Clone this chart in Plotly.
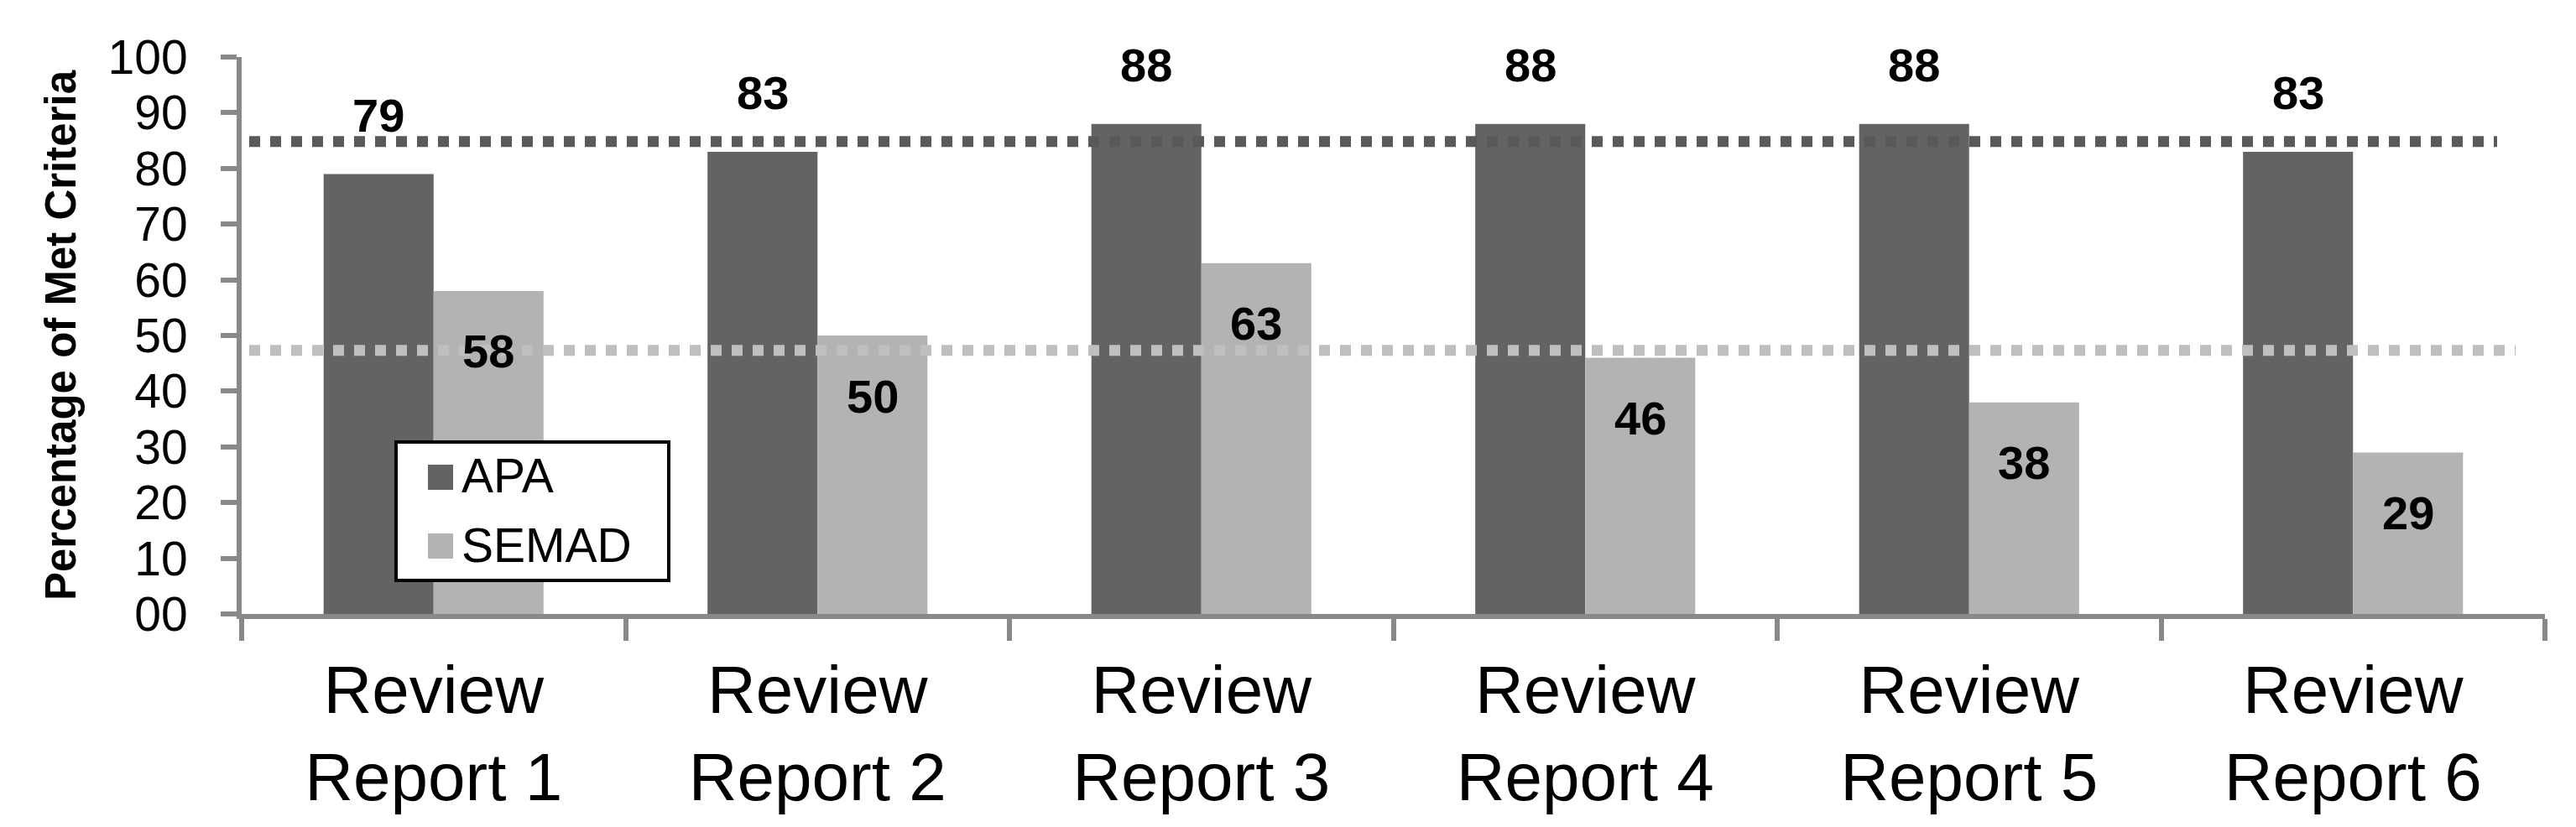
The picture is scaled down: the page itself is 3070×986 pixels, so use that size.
import plotly.graph_objects as go

categories = ["Review<br>Report 1", "Review<br>Report 2", "Review<br>Report 3",
              "Review<br>Report 4", "Review<br>Report 5", "Review<br>Report 6"]
series_names = ["APA", "SEMAD"]
apa = [79, 83, 88, 88, 88, 83]
semad = [58, 50, 63, 46, 38, 29]
ytick_vals = [0, 10, 20, 30, 40, 50, 60, 70, 80, 90, 100]
ytick_text = ["00", "10", "20", "30", "40", "50", "60", "70", "80", "90", "100"]

FONT = "Liberation Sans, Arial, sans-serif"
APA_COLOR = "#636363"
SEMAD_COLOR = "#b3b3b3"
AXIS_COLOR = "#898989"

W, H = 3070, 986
OFF = 8  # page body margin offset
ML, MR, MT, MB = 288 - OFF, 37 + OFF, 68 - OFF, 254 + OFF
BARGAP = 0.427
plot_w = W - ML - MR
plot_h = H - MT - MB


def px_x(px):
    return (px - OFF - ML) / plot_w


def px_y(py):
    return (H - MB - (py - OFF)) / plot_h


fig = go.Figure()
fig.add_trace(go.Bar(name=series_names[0], x=categories, y=apa, showlegend=False,
                     marker=dict(color=APA_COLOR, line=dict(width=0))))
fig.add_trace(go.Bar(name=series_names[1], x=categories, y=semad, showlegend=False,
                     marker=dict(color=SEMAD_COLOR, line=dict(width=0))))

# mean reference lines
apa_mean = sum(apa) / len(apa)
semad_mean = sum(semad) / len(semad)
fig.add_shape(type="line", xref="paper", yref="y", x0=px_x(297), x1=px_x(2976), y0=apa_mean, y1=apa_mean,
              line=dict(color="#595959", width=13, dash="13px,12px"), layer="above")
fig.add_shape(type="line", xref="paper", yref="y", x0=px_x(297), x1=px_x(2998), y0=semad_mean, y1=semad_mean,
              line=dict(color="#bfbfbf", width=13, dash="13px,12px"), layer="above")

# data labels
cat_w = plot_w / len(categories)
bar_off = cat_w * (1 - BARGAP) / 4
for c, a, s in zip(categories, apa, semad):
    fig.add_annotation(x=c, y=a, text=str(a), showarrow=False, xshift=-bar_off, yshift=70,
                       font=dict(family=FONT, size=56, color="black", weight="bold"))
    fig.add_annotation(x=c, y=s, text=str(s), showarrow=False, xshift=bar_off, yshift=-72,
                       font=dict(family=FONT, size=56, color="black", weight="bold"))

# legend (box, swatches, labels)
fig.add_shape(type="rect", xref="paper", yref="paper", x0=px_x(472), x1=px_x(797), y0=px_y(527), y1=px_y(692),
              fillcolor="white", line=dict(color="black", width=4), layer="above")
for name, color, (top, bot), ty in [(series_names[0], APA_COLOR, (554, 584), 567),
                                    (series_names[1], SEMAD_COLOR, (636, 666), 650)]:
    fig.add_shape(type="rect", xref="paper", yref="paper", x0=px_x(510), x1=px_x(540),
                  y0=px_y(top), y1=px_y(bot), fillcolor=color, line=dict(width=0), layer="above")
    fig.add_annotation(xref="paper", yref="paper", x=px_x(548), y=px_y(ty), text=name, showarrow=False,
                       xanchor="left", yanchor="middle",
                       font=dict(family=FONT, size=57, color="black"))

fig.update_layout(
    width=W, height=H,
    margin=dict(l=ML, r=MR, t=MT, b=MB, pad=0),
    paper_bgcolor="white", plot_bgcolor="white",
    barmode="group", bargap=BARGAP, bargroupgap=0,
    font=dict(family=FONT, color="black"),
    showlegend=False,
    xaxis=dict(showline=True, linecolor=AXIS_COLOR, linewidth=6,
               ticks="outside", tickson="boundaries", ticklen=26, tickwidth=6, tickcolor=AXIS_COLOR,
               tickfont=dict(family=FONT, size=80, color="black"), showgrid=False, zeroline=False,
               ticklabelstandoff=16),
    yaxis=dict(range=[0, 100], tickvals=ytick_vals, ticktext=ytick_text,
               showline=True, linecolor=AXIS_COLOR, linewidth=6,
               ticks="outside", ticklen=19, tickwidth=6, tickcolor=AXIS_COLOR,
               tickfont=dict(family=FONT, size=57, color="black"), showgrid=False, zeroline=False,
               ticklabelstandoff=28,
               title=dict(text="Percentage of Met Criteria", standoff=24,
                          font=dict(family=FONT, size=51, color="black", weight="bold"))),
)

fig.write_html("out.html")
